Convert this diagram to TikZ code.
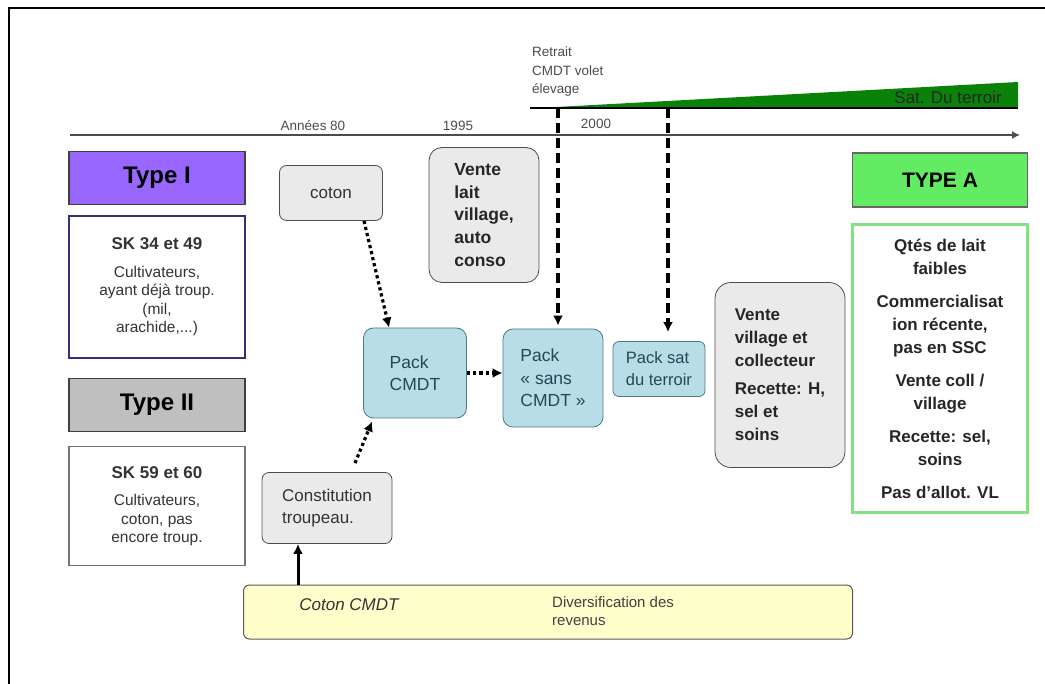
\documentclass[tikz,border=0pt]{standalone}
\usepackage{fontspec}
\setmainfont{Liberation Sans}
\usetikzlibrary{arrows.meta,
                calc,
                positioning
                }
\definecolor{violetI}{RGB}{153,102,255}
\definecolor{grisII}{RGB}{191,191,191}
\definecolor{grisclair}{RGB}{234,234,234}
\definecolor{marine}{RGB}{50,50,120}
\definecolor{tealfill}{RGB}{183,221,230}
\definecolor{tealdraw}{RGB}{80,120,135}
\definecolor{tealtext}{RGB}{40,70,85}
\definecolor{vertA}{RGB}{100,235,100}
\definecolor{vertclair}{RGB}{130,225,130}
\definecolor{vertfonce}{RGB}{10,130,10}
\definecolor{jaune}{RGB}{255,255,204}

\begin{document}
\begin{tikzpicture}[x=1pt, y=-1pt,
  typ/.style = {draw=black!75, line width=1.2pt, minimum width=176pt,
                minimum height=53pt, font=\fontsize{24}{28}\selectfont\bfseries},
 desc/.style = {draw, line width=1.5pt, minimum width=176pt, align=center,
                text=black!80, font=\fontsize{15.5}{18.5}\selectfont},
 gbox/.style = {draw=black!70, fill=grisclair, rounded corners=7pt, line width=0.8pt,
                align=left, inner sep=0pt, text=black!80},
 pack/.style = {draw=tealdraw, fill=tealfill, rounded corners=10pt, line width=0.8pt,
                align=left, inner sep=0pt, text=tealtext,
                font=\fontsize{17.5}{22.5}\selectfont},
 dots/.style = {dash pattern=on 3.2pt off 3pt, line width=3.2pt,
                -{Latex[length=10pt,width=10pt]}},
 drop/.style = {dash pattern=on 10pt off 5pt, line width=3.2pt,
                -{Latex[length=10pt,width=10pt]}},
  lbl/.style = {text=black!70, font=\fontsize{13.5}{18.5}\selectfont}
                    ]
\useasboundingbox (0,0) rectangle (1045,684);
% cadre
\draw[line width=1.5pt] (9,684) |- (1045,8);
% axe du temps
\coordinate (t0) at (70,135);
\coordinate (t1) at (1020,135);
\draw[line width=1.5pt, black!70, -{Latex[length=8pt,width=8pt]}] (t0) -- (t1);
\node (an80) [lbl] at (313,126) {Années 80};
\node (an95) [lbl] at (458,126) {1995};
\node (an00) [lbl] at (596,124) {2000};
\node (retrait) [lbl, anchor=west, align=left, inner sep=0pt] at (532,72)
      {Retrait\\CMDT volet\\élevage};
% sat du terroir
\fill[vertfonce] (538,108) -- (1018,82) -- (1018,108) -- cycle;
\draw[line width=1.2pt] (530,108) -- (1018,108);
\node (terroir) [anchor=east, text=black!85, inner sep=0pt,
      font=\fontsize{17}{18}\selectfont] at (1002,97) {Sat. Du terroir};

% types de gauche
\node (typeI) [typ, fill=violetI] at (157,178) {Type I};
\node (skI) [desc, draw=marine, minimum height=142pt] at (157,287)
      {{\bfseries\fontsize{17}{20}\selectfont SK 34 et 49}\\[9pt]
       Cultivateurs,\\ ayant déjà troup.\\ (mil,\\ arachide,...)};
\node (typeII) [typ, fill=grisII] at (157,405) {Type II};
\node (skII) [desc, draw=black!55, minimum height=119pt] at (157,506)
      {{\bfseries\fontsize{17}{20}\selectfont SK 59 et 60}\\[9pt]
       Cultivateurs,\\ coton, pas\\ encore troup.};

% parcours
\node (coton) [gbox, minimum width=103pt, minimum height=55pt,
      font=\fontsize{17}{21}\selectfont] at (331,193) {coton};
\node (lait) [gbox, rounded corners=13pt, minimum width=110pt, minimum height=135pt,
      text=black!85, font=\fontsize{17.5}{22.7}\selectfont\bfseries] at (484,215)
      {Vente\\lait\\village,\\auto\\conso};
\node (constit) [gbox, minimum width=130pt, minimum height=71pt,
      font=\fontsize{17}{22}\selectfont] at (327,508) {Constitution\\troupeau.};
\node (packCMDT) [pack, minimum width=103pt, minimum height=90pt] at (415,373)
      {Pack\\CMDT};
\node (packSans) [pack, minimum width=100pt, minimum height=98pt] at (553,378)
      {Pack\\« sans\\CMDT »};
\node (packSat) [pack, rounded corners=6pt, minimum width=92pt, minimum height=55pt,
      font=\fontsize{16.5}{22}\selectfont] at (659,369) {Pack sat\\du terroir};
\node (village) [gbox, rounded corners=16pt, minimum width=130pt, minimum height=185pt,
      text=black!85, font=\fontsize{17}{23}\selectfont\bfseries] at (780,375)
      {Vente\\village et\\collecteur\\[5pt]Recette: H,\\sel et\\soins};

% type A
\node (typeA) [typ, fill=vertA, draw=black!60, minimum width=175pt,
      minimum height=54pt, font=\fontsize{21}{24}\selectfont\bfseries] at (940,180)
      {TYPE A};
\node (descA) [desc, draw=vertclair, line width=3pt, minimum width=175pt,
      minimum height=288pt, text=black!85,
      font=\fontsize{17}{23}\selectfont\bfseries] at (940,369)
      {Qtés de lait\\faibles\\[10pt]Commercialisat\\ion récente,\\pas en SSC\\[10pt]
       Vente coll /\\village\\[10pt]Recette: sel,\\soins\\[10pt]Pas d'allot. VL};

% revenus
\node (revenus) [draw=black!65, fill=jaune, rounded corners=6pt, line width=1pt,
      minimum width=609pt, minimum height=54pt] at (548,612) {};
\node (cotonCMDT) [text=black!80, font=\fontsize{17}{20}\itshape] at (349,605)
      {Coton CMDT};
\node (divers) [anchor=west, align=left, inner sep=0pt, text=black!75,
      font=\fontsize{15}{18}\selectfont] at (552,611) {Diversification des\\revenus};

% liens
\coordinate (pied) at ($(revenus.north west)+(55,0)$);
\coordinate (ret) at (558,108);
\coordinate (sat) at (668,108);
\draw[dots] ($(coton.south)+(33,0)$) -- ($(packCMDT.north west)+(26,0)$);
\draw[dots] ($(constit.north)+(28,-9)$) -- ($(packCMDT.south west)+(9,3)$);
\draw[dots] (packCMDT.east) -- (packCMDT.east -| packSans.west);
\draw[line width=3pt, -{Latex[length=10pt,width=10pt]}] (pied) -- (pied |- constit.south);
\draw[drop, shorten >=3pt] (ret) -- (ret |- packSans.north);
\draw[drop, shorten >=9pt] (sat) -- (sat |- packSat.north);
\end{tikzpicture}
\end{document}
